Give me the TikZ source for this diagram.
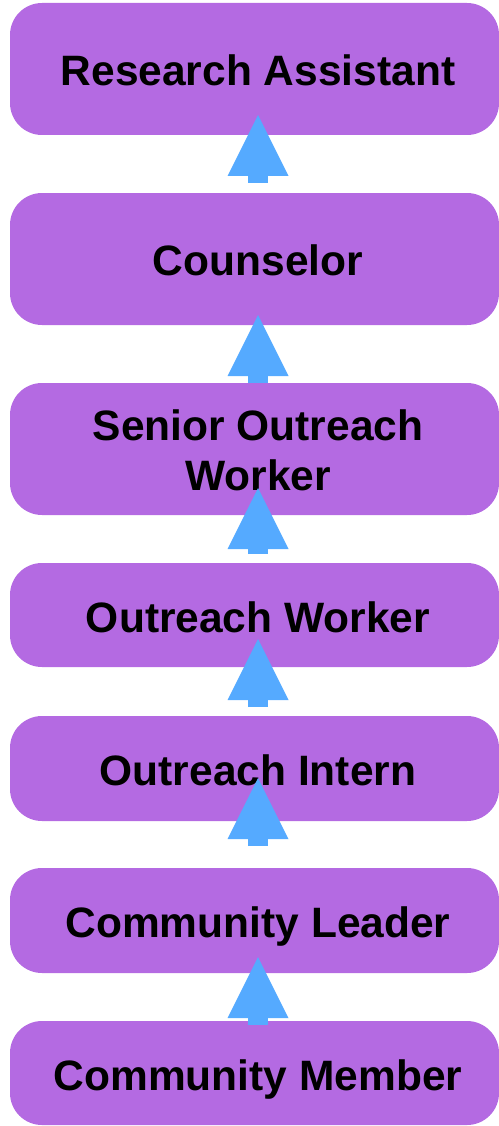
\documentclass[tikz,border=0pt]{standalone}
\usepackage{fontspec}
\setmainfont{Liberation Sans}
\usetikzlibrary{arrows.meta}
\definecolor{boxpurple}{HTML}{B46AE2}
\definecolor{arrblue}{HTML}{55AAFF}
\tikzset{
  rolebox/.style={fill=boxpurple, draw=none, rounded corners=32pt, minimum width=489pt, inner sep=0pt},
  roletext/.style={font=\fontsize{42.5}{50}\selectfont\bfseries, text=black, inner sep=0pt, align=center},
  uparrow/.style={draw=arrblue, line width=20pt, line cap=butt,
    -{Triangle[width=61pt,length=61pt,line width=0pt,fill=arrblue]}}
}
\begin{document}
\begin{tikzpicture}[x=1pt,y=-1pt]
\useasboundingbox (0,0) rectangle (498,1126);
% boxes
\node[rolebox, minimum height=132pt] (n1) at (254.5,69) {};
\node[rolebox, minimum height=132pt] (n2) at (254.5,259) {};
\node[rolebox, minimum height=132pt] (n3) at (254.5,449) {};
\node[rolebox, minimum height=104pt] (n4) at (254.5,615) {};
\node[rolebox, minimum height=105pt] (n5) at (254.5,768.5) {};
\node[rolebox, minimum height=105pt] (n6) at (254.5,920.5) {};
\node[rolebox, minimum height=104pt] (n7) at (254.5,1073) {};
% texts
\node[roletext, anchor=base] (l1) at (258,86) {Research Assistant};
\node[roletext, anchor=base] (l2) at (258,275) {Counselor};
\node[roletext] (l3) at (258,450.5) {Senior Outreach\\Worker};
\node[roletext, anchor=base] (l4) at (258,632) {Outreach Worker};
\node[roletext, anchor=base] (l5) at (258,785) {Outreach Intern};
\node[roletext, anchor=base] (l6) at (258,937) {Community Leader};
\node[roletext, anchor=base] (l7) at (258,1090) {Community Member};
% arrow end points
\coordinate (s1) at (258,183);  \coordinate (t1) at (258,115);
\coordinate (s2) at (258,383);  \coordinate (t2) at (258,315);
\coordinate (s3) at (258,554);  \coordinate (t3) at (258,488);
\coordinate (s4) at (258,707);  \coordinate (t4) at (258,639);
\coordinate (s5) at (258,846);  \coordinate (t5) at (258,778);
\coordinate (s6) at (258,1025); \coordinate (t6) at (258,957);
\draw[uparrow] (s1) -- (t1);
\draw[uparrow] (s2) -- (t2);
\draw[uparrow] (s3) -- (t3);
\draw[uparrow] (s4) -- (t4);
\draw[uparrow] (s5) -- (t5);
\draw[uparrow] (s6) -- (t6);
\end{tikzpicture}
\end{document}
